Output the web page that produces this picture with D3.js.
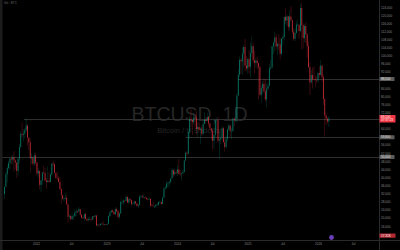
<!DOCTYPE html>
<html>
<head>
<meta charset="utf-8">
<script src="https://cdn.jsdelivr.net/npm/d3@7"></script>
<style>
  html, body { margin: 0; padding: 0; background: #000; overflow: hidden; }
  svg { display: block; font-family: "Liberation Sans", Arial, sans-serif; }
</style>
</head>
<body>
<div id="chart"></div>
<script>
// BTCUSD, weekly candles, in thousands USD.
// each row: [high, low, close]; a week opens at the previous close
var firstWeek = "2021-07-19"
var firstOpen = 31.8

var w2021 = [[35.5,29.3,35.4],[42.6,35.2,41.5],[46.0,37.5,44.6],[48.1,43.8,47.0],[49.4,43.9,49.3],[50.5,46.3,48.8],
  [51.0,46.5,49.9],[52.9,42.9,48.3],[48.8,44.0,47.3],[47.3,39.6,43.2],[49.4,40.8,49.1],[56.5,46.9,54.9],
  [62.9,54.4,61.5],[67.0,59.6,61.0],[63.7,57.8,61.5],[64.3,59.4,63.3],[69.0,62.3,65.5],[66.3,55.6,59.7],
  [59.4,53.3,57.3],[59.2,42.0,49.4],[51.9,46.7,50.1],[49.5,45.7,46.7],[52.0,45.6,50.8],[52.1,45.7,47.3]]

var w2022 = [[47.5,40.5,41.9],[44.4,39.6,43.1],[43.5,34.0,36.3],[38.9,32.9,38.5],[42.6,36.3,42.4],[45.8,41.7,42.2],
  [44.7,38.0,38.4],[39.8,34.3,37.7],[45.4,37.2,38.4],[42.6,37.2,37.8],[42.3,37.6,41.3],[46.9,40.9,46.8],
  [48.2,45.2,46.4],[47.2,42.1,42.2],[42.4,39.2,39.7],[42.9,38.5,39.4],[40.8,37.6,37.7],[40.0,33.7,34.3],
  [34.8,26.7,31.3],[31.3,28.6,29.4],[30.5,28.0,29.4],[32.2,29.3,29.9],[31.5,26.6,26.6],[26.9,17.6,20.6],
  [21.9,19.6,21.0],[21.5,18.6,19.3],[22.5,19.3,20.8],[21.6,18.9,20.8],[24.3,20.7,22.6],[24.7,20.7,23.3],
  [23.6,22.4,23.2],[25.2,22.7,24.3],[24.5,20.8,21.5],[21.9,19.6,20.0],[20.6,19.6,19.8],[22.4,18.5,21.8],
  [22.7,19.3,19.4],[19.9,18.1,18.8],[20.4,18.5,19.4],[20.5,19.1,19.4],[19.9,18.2,19.2],[20.9,18.9,20.8],
  [21.0,19.2,20.6],[21.5,20.0,21.2],[21.4,15.6,16.3],[17.2,16.2,16.7],[16.7,15.5,16.5],[17.4,16.1,17.1],
  [17.4,16.7,17.1],[18.4,16.3,16.8],[17.0,16.4,16.8],[16.9,16.3,16.6]]

var w2023 = [[17.2,16.6,17.1],[21.4,17.2,20.9],[23.4,20.4,22.7],[23.8,22.4,23.7],[24.2,22.6,23.0],[23.3,21.4,21.8],
  [25.3,21.5,24.3],[25.1,22.8,23.2],[23.9,19.6,20.5],[22.6,19.6,22.2],[28.4,21.9,27.9],[28.9,26.6,27.9],
  [29.2,26.5,28.5],[28.6,27.2,28.3],[31.0,28.2,30.3],[30.5,27.1,27.6],[30.0,27.0,29.2],[29.8,27.7,28.7],
  [28.9,25.8,26.9],[27.6,26.4,27.1],[28.4,26.0,28.1],[28.4,26.5,27.1],[27.3,25.4,25.9],[26.8,24.8,26.3],
  [31.4,26.3,30.5],[31.3,29.5,30.6],[31.5,29.7,30.2],[31.8,29.9,30.3],[30.4,29.5,29.9],[29.9,28.9,29.3],
  [29.7,28.6,29.1],[30.2,28.7,29.4],[29.7,25.2,26.1],[26.8,25.8,26.0],[28.1,25.4,25.8],[26.0,24.9,25.8],
  [26.8,24.9,26.5],[27.5,26.0,26.5],[28.0,26.1,27.9],[28.6,27.2,27.9],[27.9,26.5,26.8],[30.3,26.8,30.0],
  [35.3,29.9,34.5],[35.9,33.9,35.0],[38.0,34.5,37.0],[37.9,34.8,37.4],[38.4,35.6,37.8],[39.7,36.7,39.5],
  [44.7,39.4,43.7],[43.4,40.2,41.4],[44.3,40.5,42.6],[43.8,41.4,42.3]]

var w2024 = [[45.9,40.8,43.9],[49.0,41.5,41.7],[43.6,40.3,41.6],[42.2,38.5,42.0],[43.8,41.8,42.6],[48.6,42.3,48.3],
  [52.8,48.3,52.1],[52.9,50.6,51.7],[64.0,51.0,62.4],[70.1,59.0,68.9],[73.8,64.6,68.3],[68.1,60.8,67.2],
  [71.8,66.0,69.6],[71.3,64.5,69.4],[72.8,61.0,63.8],[66.9,59.6,64.9],[67.2,62.8,63.4],[64.7,56.5,64.0],
  [65.5,60.2,61.5],[67.7,60.8,66.3],[71.9,66.6,68.5],[70.0,66.6,67.8],[71.9,67.9,69.6],[70.2,65.1,66.6],
  [66.9,63.4,64.3],[63.4,58.5,62.8],[63.8,53.5,58.0],[61.4,54.3,60.8],[68.4,59.9,68.2],[69.4,63.5,68.2],
  [70.0,57.1,58.1],[62.7,49.1,58.7],[61.8,56.2,59.5],[65.0,57.9,64.2],[64.9,57.1,57.3],[59.8,52.6,54.9],
  [60.7,54.6,59.1],[64.1,57.6,63.6],[66.5,62.7,65.6],[65.6,59.9,62.8],[64.5,58.9,62.9],[69.4,62.4,69.0],
  [69.5,65.1,67.9],[73.6,67.5,68.7],[81.5,66.8,80.4],[93.4,80.2,90.6],[99.6,89.4,97.9],[98.7,90.9,97.2],
  [104.0,90.5,101.1],[105.2,94.2,104.3],[108.3,92.2,95.2],[99.9,92.6,93.7],[98.9,91.3,98.3]]

var w2025 = [[102.7,91.2,94.5],[106.4,89.3,101.3],[109.4,99.5,104.7],[106.5,96.5,97.7],[102.5,91.2,96.5],
  [98.8,94.1,97.6],[99.5,93.4,96.3],[96.5,78.3,94.3],[95.0,80.0,80.7],[85.3,76.6,84.0],[87.5,81.2,86.1],
  [88.8,81.6,82.4],[88.5,77.2,78.4],[86.1,74.5,83.7],[86.4,83.1,85.1],[95.8,85.1,93.8],[97.9,92.9,94.3],
  [104.9,93.4,104.6],[106.7,100.7,106.5],[112.0,102.1,109.0],[110.7,103.1,104.6],[106.8,100.4,105.7],
  [110.6,102.6,105.6],[108.9,98.2,100.9],[108.5,100.1,108.4],[110.5,105.1,109.2],[119.5,107.5,119.1],
  [123.2,115.7,117.3],[120.2,114.7,119.4],[119.8,112.0,114.2],[122.3,112.7,119.3],[124.5,116.8,117.5],
  [117.6,110.6,111.8],[113.3,107.3,108.3],[113.4,107.2,111.2],[116.8,110.6,115.3],[117.9,114.4,115.3],
  [115.3,108.6,112.2],[125.5,111.6,123.5],[126.2,103.0,115.0],[116.0,103.5,108.6],[115.5,106.6,114.6],
  [116.4,106.3,110.5],[111.2,98.9,104.7],[107.0,94.0,94.3],[96.6,80.6,86.8],[93.1,86.1,90.4],
  [94.2,83.8,88.3],[94.6,87.6,88.2],[90.4,84.4,88.1],[89.6,86.5,87.8],[91.8,86.7,91.4]]

var w2026 = [[94.8,89.2,90.5],[97.9,90.3,95.1],[95.5,87.3,89.3],[90.6,75.7,78.6],[79.3,60.1,70.5],
  [71.8,65.7,68.9],[69.5,66.4,67.6],[70.2,64.9,69.1]]

// price scale labels (thousands)
var priceTicks = [124,120,116,112,108,104,100,96,92,88,84,80,76,72,68,64,60,56,52,48,44,40,36,32,28,24,20,16]

// time scale labels
var timeTicks = ["2022-01-01","2022-07-01","2023-01-01","2023-07-01","2024-01-01","2024-07-01",
  "2025-01-01","2025-07-01","2026-01-01","2026-07-01"]
var timeLabels = ["2022","Jul","2023","Jul","2024","Jul","2025","Jul","2026","Jul"]

// horizontal rays drawn on the chart
var rayLevels = [88.5, 69.0, 59.8, 50.0]
var rayStarts = ["2024-11-12","2021-10-31","2024-02-16","2021-06-01"]

var lastPrice = 69.1
var countdown = "07:37:23"


var W = 400, H = 250
var paneRight = 379, paneBottom = 240

var parse = d3.utcParse("%Y-%m-%d")

var x = d3.scaleUtc()
  .domain([parse("2022-01-01"), parse("2026-01-01")])
  .range([36, 318])

var y = d3.scaleLinear()
  .domain([16, 124])
  .range([226, 7])

// build the candle list
var rows = [].concat(w2021, w2022, w2023, w2024, w2025, w2026)
var candles = []
var prev = firstOpen
var t0 = parse(firstWeek)
rows.forEach(function (r, i) {
  candles.push({
    date: d3.utcDay.offset(t0, i * 7 + 3.5),
    open: prev, high: r[0], low: r[1], close: r[2]
  })
  prev = r[2]
})

var svg = d3.select("#chart").append("svg")
  .attr("width", W)
  .attr("height", H)

svg.append("rect").attr("width", W).attr("height", H).attr("fill", "#000")

var pane = svg.append("g")
svg.append("defs").append("clipPath").attr("id", "clip")
  .append("rect").attr("width", paneRight).attr("height", paneBottom)
pane.attr("clip-path", "url(#clip)")

// watermark
pane.append("text")
  .attr("x", paneRight / 2).attr("y", 121)
  .attr("text-anchor", "middle")
  .attr("font-size", 19.5)
  .attr("fill", "#262626")
  .text("BTCUSD, 1D")
pane.append("text")
  .attr("x", paneRight / 2).attr("y", 132.5)
  .attr("text-anchor", "middle")
  .attr("font-size", 7.6)
  .attr("fill", "#262626")
  .text("Bitcoin / U.S. dollar")

// rays
pane.append("g").selectAll("line")
  .data(rayLevels)
  .join("line")
  .attr("x1", (d, i) => Math.max(0, x(parse(rayStarts[i]))))
  .attr("x2", paneRight)
  .attr("y1", d => Math.round(y(d)) + 0.5)
  .attr("y2", d => Math.round(y(d)) + 0.5)
  .attr("stroke", "#2f2f2f")
  .attr("stroke-width", 1)

var up = "#089981", down = "#f23645"
var colorOf = d => d.close >= d.open ? up : down

var cg = pane.append("g")
cg.selectAll("line")
  .data(candles)
  .join("line")
  .attr("x1", d => x(d.date)).attr("x2", d => x(d.date))
  .attr("y1", d => y(d.high)).attr("y2", d => y(d.low))
  .attr("stroke", colorOf)
  .attr("stroke-width", 0.4)
  .attr("opacity", 0.6)

cg.selectAll("rect")
  .data(candles)
  .join("rect")
  .attr("x", d => x(d.date) - 0.45)
  .attr("width", 0.9)
  .attr("y", d => y(Math.max(d.open, d.close)))
  .attr("height", d => Math.max(0.5, Math.abs(y(d.open) - y(d.close))))
  .attr("fill", colorOf)
  .attr("opacity", 0.7)

// left toolbar edge
svg.append("rect").attr("x", 0).attr("y", 0).attr("width", 2.5).attr("height", H).attr("fill", "#1c1c1c")

// legend top-left
svg.append("text").attr("x", 4).attr("y", 4.2).attr("font-size", 3).attr("fill", "#6a6a6a").text("Vol · BTC")

// separators
svg.append("line").attr("x1", paneRight + 0.5).attr("x2", paneRight + 0.5).attr("y1", 0).attr("y2", H)
  .attr("stroke", "#2a2a2a")
svg.append("line").attr("x1", 0).attr("x2", W).attr("y1", paneBottom + 0.5).attr("y2", paneBottom + 0.5)
  .attr("stroke", "#2a2a2a")

// price axis, hiding labels that fall under the boxes
var boxYs = rayLevels.filter(v => v != 69.0).map(y).concat([y(lastPrice)])
var shown = priceTicks.filter(v => boxYs.every(b => Math.abs(y(v) - b) > 3.6))

var yAxis = d3.axisRight(y)
  .tickValues(shown)
  .tickSize(0)
  .tickPadding(0)
  .tickFormat(v => d3.format(",")(v * 1000))

svg.append("g")
  .attr("transform", `translate(${paneRight + 2},0)`)
  .call(yAxis)
  .call(g => g.select(".domain").remove())
  .call(g => g.selectAll("text").attr("font-size", 3.1).attr("fill", "#8a8a8a").attr("font-family", "Liberation Sans, Arial"))

// level boxes on the price axis
var boxes = svg.append("g")
rayLevels.forEach(function (v) {
  if (v == 69.0) return
  var yy = y(v)
  boxes.append("rect").attr("x", paneRight + 0.5).attr("y", yy - 2).attr("width", 15).attr("height", 4)
    .attr("fill", "#5a5a5a").attr("rx", 0.5)
  boxes.append("text").attr("x", paneRight + 2).attr("y", yy + 1.1)
    .attr("font-size", 3.1).attr("fill", "#e8e8e8")
    .text(d3.format(",")(Math.round(v * 1000)))
})

// last price box
var ly = y(lastPrice)
boxes.append("rect").attr("x", paneRight + 0.5).attr("y", ly - 3.3).attr("width", 16).attr("height", 7.4)
  .attr("fill", "#f23645").attr("rx", 0.5)
boxes.append("text").attr("x", paneRight + 2).attr("y", ly - 0.2)
  .attr("font-size", 3.1).attr("fill", "#fff").text(d3.format(",")(Math.round(lastPrice * 1000)))
boxes.append("text").attr("x", paneRight + 2).attr("y", ly + 3.1)
  .attr("font-size", 3.1).attr("fill", "#fff").text(countdown)

// volume label box at the bottom of the price scale
boxes.append("rect").attr("x", paneRight + 0.5).attr("y", 233.5).attr("width", 16).attr("height", 4.2)
  .attr("fill", "#b22833").attr("rx", 0.5)
boxes.append("text").attr("x", paneRight + 2).attr("y", 236.8)
  .attr("font-size", 3.1).attr("fill", "#fff").text("17.31K")

// time axis
var xAxis = d3.axisBottom(x)
  .tickValues(timeTicks.map(parse))
  .tickSize(0)
  .tickPadding(0)
  .tickFormat((d, i) => timeLabels[i])

svg.append("g")
  .attr("transform", `translate(0,${paneBottom + 2.5})`)
  .call(xAxis)
  .call(g => g.select(".domain").remove())
  .call(g => g.selectAll("text").attr("font-size", 3.1).attr("fill", "#8a8a8a").attr("font-family", "Liberation Sans, Arial"))

// events marker
svg.append("circle").attr("cx", 331.5).attr("cy", 237.5).attr("r", 2.4).attr("fill", "#6a3fb8")
</script>
</body>
</html>
